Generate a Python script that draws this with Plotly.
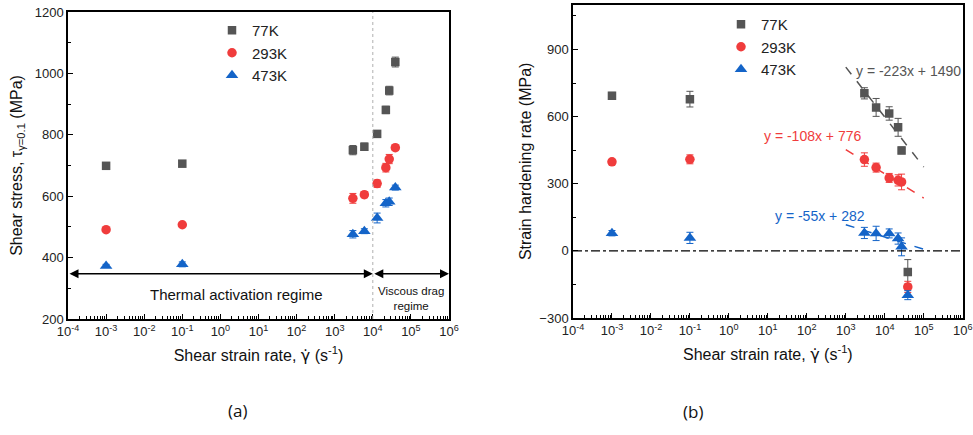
import numpy as np
import plotly.graph_objects as go

# ---------------- data ----------------
rates = [1e-3, 1e-1, 3000, 6000, 13000, 22000, 27000, 39000]
temps = ["77K", "293K", "473K"]

shear_77 = [699, 706, 750, 761, 803, 881, 944, 1037]
shear_77_err = [6, 10, 15, 12, 10, 12, 14, 16]
shear_293 = [491, 507, 593, 605, 641, 693, 721, 758]
shear_293_err = [5, 6, 16, 10, 12, 14, 15, 8]
shear_473 = [373, 378, 476, 486, 529, 577, 582, 628]
shear_473_err = [5, 8, 12, 8, 16, 12, 12, 8]

hard_77 = [693, 678, 704, 641, 614, 552, 449, -94]
hard_77_err = [15, 35, 25, 40, 30, 40, 15, 55]
hard_293 = [398, 409, 408, 372, 326, 315, 308, -161]
hard_293_err = [10, 20, 30, 20, 20, 25, 35, 25]
hard_473 = [79, 58, 80, 78, 78, 55, 18, -198]
hard_473_err = [12, 25, 25, 32, 20, 25, 40, 20]

fit_slopes = [-223, -108, -55]
fit_intercepts = [1490, 776, 282]
fit_x = [1e3, 1e5]
fit_labels = ["y = -223x + 1490", "y = -108x + 776", "y = -55x + 282"]

colors = ["#555555", "#F03C3C", "#1464C8"]
symbols = ["square", "circle", "triangle-up"]
msizes = [8.5, 9.5, 11]

FONT = "Liberation Sans, Arial, sans-serif"

W, H = 973, 435


def px(x):
    return x / W


def py(y):
    return 1 - y / H


fig = go.Figure()

shear_sets = [(shear_77, shear_77_err), (shear_293, shear_293_err), (shear_473, shear_473_err)]
hard_sets = [(hard_77, hard_77_err), (hard_293, hard_293_err), (hard_473, hard_473_err)]

for i, t in enumerate(temps):
    y, e = shear_sets[i]
    fig.add_trace(go.Scatter(
        x=rates, y=y, mode="markers", name=t, legend="legend",
        marker=dict(symbol=symbols[i], size=msizes[i], color=colors[i]),
        error_y=dict(type="data", array=e, color=colors[i], thickness=1, width=3.5),
        xaxis="x", yaxis="y"))

for i, t in enumerate(temps):
    y, e = hard_sets[i]
    fig.add_trace(go.Scatter(
        x=rates, y=y, mode="markers", name=t, legend="legend2",
        marker=dict(symbol=symbols[i], size=msizes[i], color=colors[i]),
        error_y=dict(type="data", array=e, color=colors[i], thickness=1, width=3.5),
        xaxis="x2", yaxis="y2"))

for i in range(3):
    fy = [fit_slopes[i] * np.log10(v) + fit_intercepts[i] for v in fit_x]
    fig.add_trace(go.Scatter(
        x=fit_x, y=fy, mode="lines", showlegend=False,
        line=dict(color=colors[i], dash="dash", width=1.5),
        xaxis="x2", yaxis="y2"))

# ---------------- axes ----------------
decades = list(range(-4, 7))
tickvals = [10.0 ** d for d in decades]
ticktext = [f"10<sup>{d}</sup>" for d in decades]
minor_vals = [m * 10.0 ** d for d in range(-4, 6) for m in range(2, 10)]

GDOT = '<span style="font-family:DejaVu Sans">γ̇</span>'

xcommon = dict(
    type="log", range=[-4, 6], tickvals=tickvals, ticktext=ticktext,
    ticks="inside", ticklen=5, tickwidth=1.2, tickcolor="black",
    minor=dict(tickvals=minor_vals, ticks="inside", ticklen=3, tickcolor="black", tickwidth=1),
    showline=True, linecolor="black", linewidth=1.5, mirror=True,
    showgrid=False, zeroline=False, automargin=False,
    tickfont=dict(family=FONT, size=13, color="#222"),
    title=dict(text=f"Shear strain rate, {GDOT} (s<sup>-1</sup>)",
               font=dict(family=FONT, size=16, color="#111"), standoff=11),
)
ycommon = dict(
    ticks="inside", ticklen=5, tickwidth=1.2, tickcolor="black",
    showline=True, linecolor="black", linewidth=1.5, mirror=True,
    showgrid=False, zeroline=False, automargin=False,
    tickfont=dict(family=FONT, size=13, color="#222"),
)

fig.update_layout(
    width=W, height=H,
    margin=dict(l=0, r=0, t=0, b=0),
    paper_bgcolor="white", plot_bgcolor="white",
    font=dict(family=FONT, color="#111"),
    xaxis=dict(xcommon, domain=[px(68), px(449)], anchor="y"),
    yaxis=dict(ycommon, domain=[py(319), py(12)], anchor="x",
               range=[200, 1200], tickvals=[200, 400, 600, 800, 1000, 1200],
               minor=dict(tickvals=[300, 500, 700, 900, 1100], ticks="inside", ticklen=3,
                          tickcolor="black"),
               title=dict(text="Shear stress, τ<sub>γ=0.1</sub> (MPa)",
                          font=dict(family=FONT, size=16, color="#111"), standoff=8)),
    xaxis2=dict(xcommon, domain=[px(573), px(962.7)], anchor="y2"),
    yaxis2=dict(ycommon, domain=[py(318), py(4.7)], anchor="x2",
                range=[-300, 1100], tickvals=[-300, 0, 300, 600, 900],
                minor=dict(tickvals=[-150, 150, 450, 750, 1050], ticks="inside", ticklen=3,
                           tickcolor="black"),
                title=dict(text="Strain hardening rate (MPa)",
                           font=dict(family=FONT, size=16, color="#111"), standoff=4)),
    legend=dict(x=px(212), y=py(14), xanchor="left", yanchor="top",
                bgcolor="rgba(0,0,0,0)", font=dict(family=FONT, size=15, color="#222"),
                itemwidth=30, tracegroupgap=0),
    legend2=dict(x=px(721), y=py(8), xanchor="left", yanchor="top",
                 bgcolor="rgba(0,0,0,0)", font=dict(family=FONT, size=15, color="#222"),
                 itemwidth=30, tracegroupgap=0),
)

# vertical dotted line at 1e4 (left) and zero dash-dot line (right)
fig.add_shape(type="line", xref="x", yref="y domain", x0=1e4, x1=1e4, y0=0, y1=1,
              line=dict(color="#b0b0b0", width=1, dash="dot"))
fig.add_shape(type="line", xref="x2 domain", yref="y2", x0=0, x1=1, y0=0, y1=0,
              line=dict(color="black", width=1.3, dash="dashdot"))

# regime arrows
for x0, x1 in [(-4, 4), (4, 6)]:
    fig.add_annotation(xref="x", yref="y", axref="x", ayref="y",
                       x=x1, y=347, ax=x0, ay=347, text="", showarrow=True,
                       arrowside="end+start", arrowhead=2, arrowsize=1.2,
                       arrowwidth=1.5, arrowcolor="black", standoff=0, startstandoff=0)

fig.add_annotation(xref="x", yref="y", x=0.41, y=281, text="Thermal activation regime",
                   showarrow=False, xanchor="center", yanchor="middle",
                   font=dict(family=FONT, size=15, color="#111"))
fig.add_annotation(xref="x", yref="y", x=5.0, y=268, text="Viscous drag<br>regime",
                   showarrow=False, xanchor="center", yanchor="middle",
                   font=dict(family=FONT, size=11.5, color="#111"))

ann_pos = [(4.6, 803), (2.16, 513), (2.33, 156)]
for i in range(3):
    fig.add_annotation(xref="x2", yref="y2", x=ann_pos[i][0], y=ann_pos[i][1],
                       text=fit_labels[i], showarrow=False, xanchor="center", yanchor="middle",
                       font=dict(family=FONT, size=14, color=colors[i]))

fig.add_annotation(xref="paper", yref="paper", x=px(237), y=py(410),
                   text="(a)", showarrow=False, xanchor="center", yanchor="middle",
                   font=dict(family="Open Sans", size=17, color="#111"))
fig.add_annotation(xref="paper", yref="paper", x=px(693), y=py(411),
                   text="(b)", showarrow=False, xanchor="center", yanchor="middle",
                   font=dict(family="Open Sans", size=17, color="#111"))

fig.write_html("out.html", config={"displayModeBar": False},
               post_script="document.body.style.margin='0px';")
